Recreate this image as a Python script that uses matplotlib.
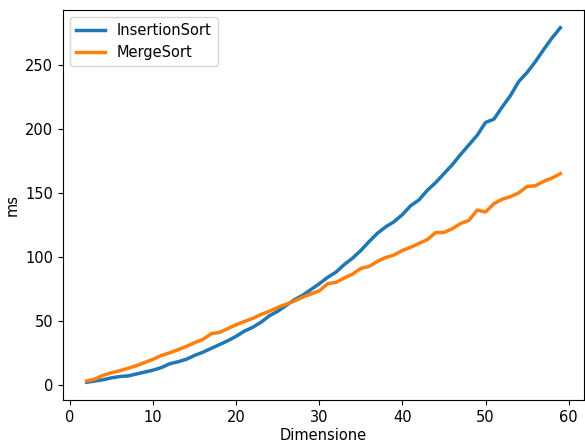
import numpy as np
import matplotlib
matplotlib.use('Agg')
import matplotlib.pyplot as plt

dimensione = list(range(2, 60))

insertion_sort = [2, 3, 4, 5.5, 6.5, 7, 8.5, 10, 11.5, 13.5,
                  16.5, 18, 20, 23, 25.5, 28.5, 31.5, 34.5, 38, 42,
                  45, 49, 54, 57.5, 62, 66.5, 70, 74.5, 79, 84,
                  88, 94, 99, 105, 112, 118.5, 123.5, 127.5, 133, 140,
                  144.5, 152, 158, 165, 172, 180, 187.5, 195, 205, 207.5,
                  217, 226, 237, 244, 252.5, 262, 271, 279]

merge_sort = [3, 4.5, 7.5, 9.5, 11, 13, 15, 17.5, 20, 23,
              25, 27.5, 30, 33, 35.5, 40, 41, 44, 47, 49.5,
              52, 55, 57.5, 60.5, 63, 65.5, 68.5, 71, 73.5, 79,
              80, 83.5, 86.5, 91, 92.5, 96.5, 99.5, 101.5, 105, 107.5,
              110.5, 113.5, 119, 119, 122, 126, 128.5, 136.5, 135, 141.5,
              145, 147, 150, 155, 155.5, 159, 161.5, 165]

if __name__ == '__main__':
    plt.rcParams['font.size'] = 10.5
    fig = plt.figure(figsize=(5.85, 4.43), dpi=100)
    ax = fig.add_axes([63 / 585, 43 / 443, (584 - 63) / 585, (400 - 10) / 443])
    ax.plot(dimensione, insertion_sort, label='InsertionSort', linewidth=2.5)
    ax.plot(dimensione, merge_sort, label='MergeSort', linewidth=2.5)
    ax.set_xlabel('Dimensione', labelpad=2.5)
    ax.set_ylabel('ms')
    ax.legend()
    fig.savefig('out.png', dpi=100)
